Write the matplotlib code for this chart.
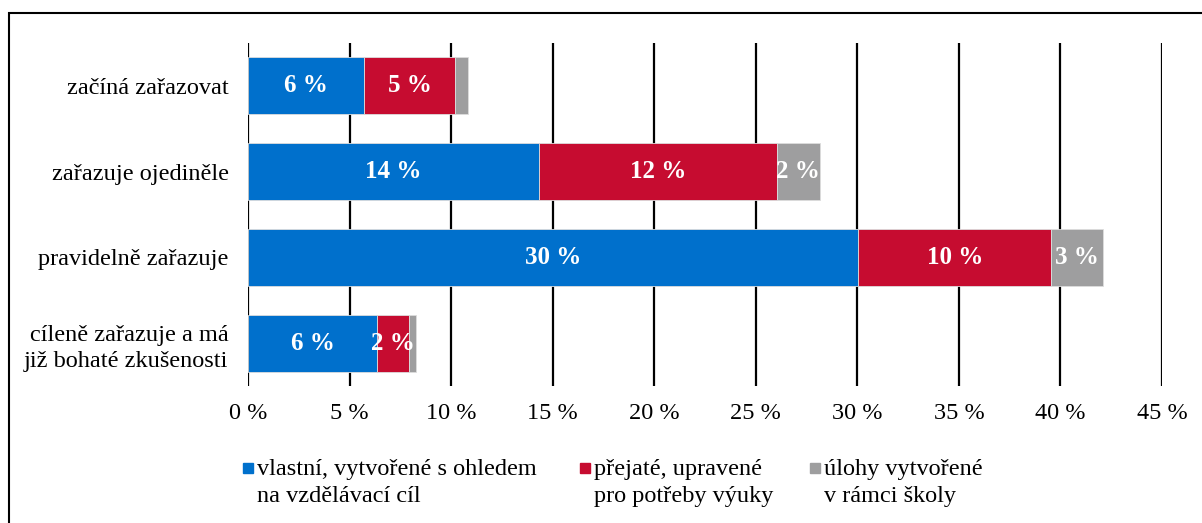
import matplotlib
matplotlib.use("Agg")
import numpy as np
import matplotlib.pyplot as plt
from matplotlib.patches import Rectangle

categories = ["začíná zařazovat", "zařazuje ojediněle", "pravidelně zařazuje",
              "cíleně zařazuje a má\njiž bohaté zkušenosti"]
vlastni = [5.7, 14.35, 30.05, 6.35]
prejate = [4.5, 11.7, 9.5, 1.6]
skolni = [0.65, 2.1, 2.55, 0.3]
series_names = ["vlastní, vytvořené s ohledem\nna vzdělávací cíl",
                "přejaté, upravené\npro potřeby výuky",
                "úlohy vytvořené\nv rámci školy"]
colors = ["#0070CC", "#C60C30", "#9E9E9F"]
xticks = [0, 5, 10, 15, 20, 25, 30, 35, 40, 45]

plt.rcParams["font.family"] = ["Liberation Serif", "DejaVu Serif"]

W, H = 1202, 523
fig = plt.figure(figsize=(W / 100, H / 100), dpi=100)
ax = fig.add_axes([248 / W, 1 - 386 / H, (1162 - 248) / W, (386 - 43) / H])

# ramecek kolem grafu (vpravo a dole oriznuty)
fig.patches.append(Rectangle((9 / W, -0.05), 1.1, 1.05 - 13 / H,
                             transform=fig.transFigure, fill=False,
                             edgecolor="black", linewidth=1.5))

y = np.arange(len(categories))
data = [vlastni, prejate, skolni]
left = np.zeros(len(categories))
for vals, col, name in zip(data, colors, series_names):
    vals = np.array(vals)
    ax.barh(y, vals, left=left, height=0.663, color=col,
            edgecolor="#dddddd", linewidth=0.6, label=name, zorder=3)
    for yi, l, v in zip(y, left, vals):
        if v >= 1.5:
            ax.text(l + v / 2, yi, "%d %%" % int(v + 0.5), ha="center", va="center",
                    color="white", fontsize=18, fontweight="bold", zorder=4)
    left += vals

ax.set_xlim(0, 45)
ax.set_ylim(3.5, -0.5)
ax.set_yticks(y)
ax.set_yticklabels(categories, fontsize=17.5, linespacing=1.35)
ax.set_xticks(xticks)
ax.set_xticklabels(["%d %%" % t for t in xticks], fontsize=17.5)
ax.tick_params(length=0, pad=12, axis="x")
ax.tick_params(length=0, pad=14, axis="y")
for s in ax.spines.values():
    s.set_visible(False)
ax.grid(axis="x", color="black", linewidth=1.6, zorder=0)
ax.set_axisbelow(True)

# legenda rucne - ctverecek u prvniho radku
leg_x = [243, 580, 810]
for lx, col, name in zip(leg_x, colors, series_names):
    fig.patches.append(Rectangle((lx / W, 1 - 473 / H), 10 / W, 10 / H,
                                 transform=fig.transFigure, color=col))
    fig.text((lx + 14) / W, 1 - 459 / H, name, ha="left", va="top",
             fontsize=17.5, linespacing=1.35)

fig.savefig("out.png", dpi=100)
